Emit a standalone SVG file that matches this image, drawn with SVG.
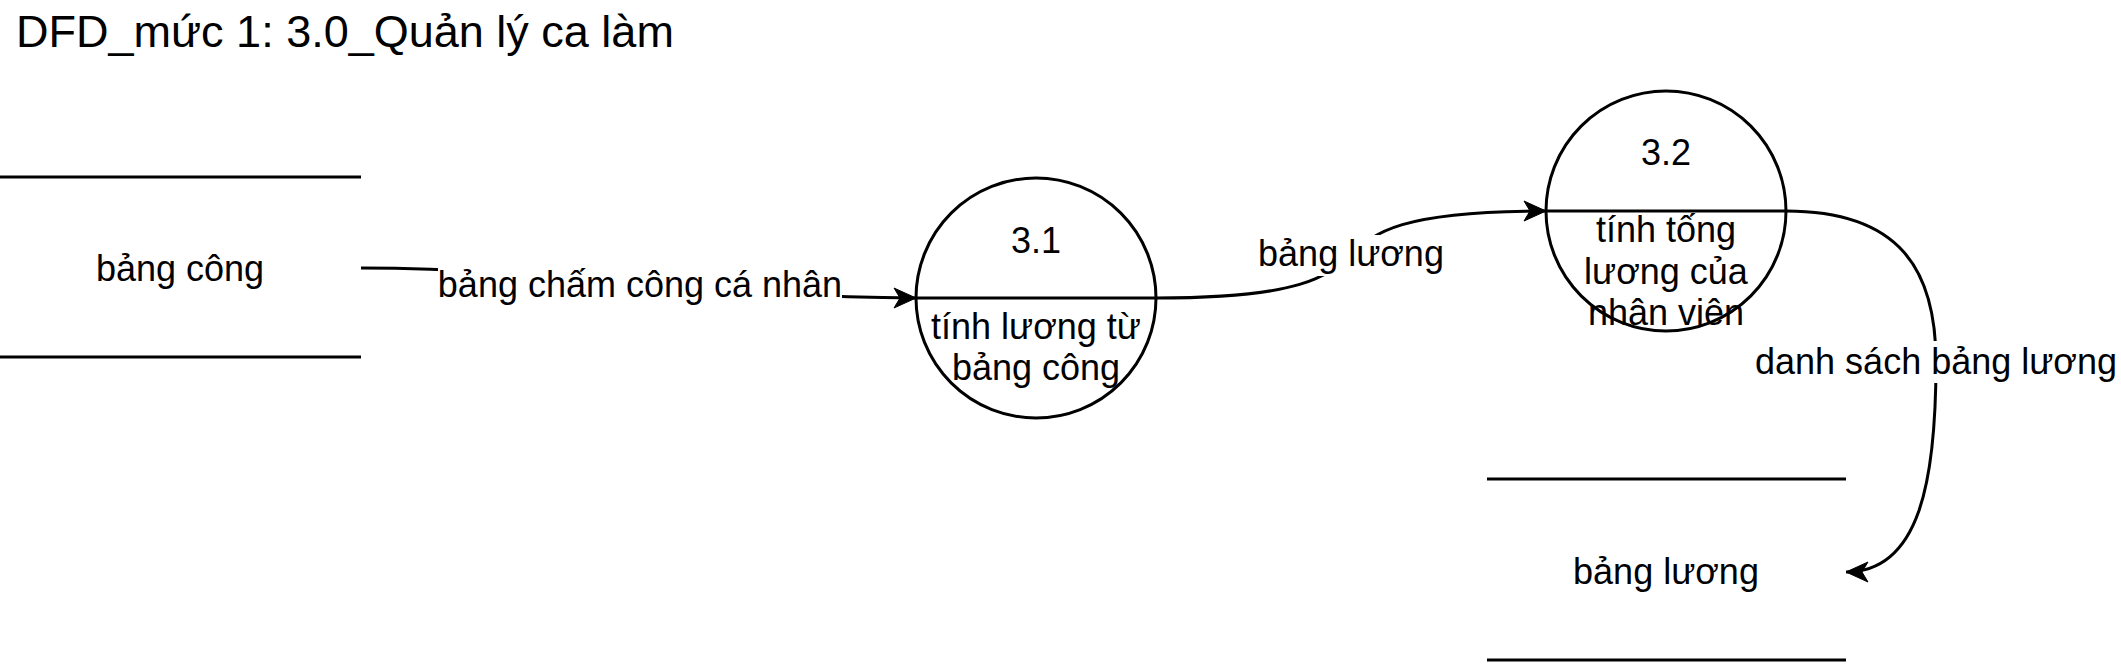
<svg xmlns="http://www.w3.org/2000/svg" width="2121" height="666" viewBox="0 0 2121 666">
<style>
text{font-family:"Liberation Sans",Arial,sans-serif;font-size:36px;fill:#000;text-anchor:middle}
.title{font-size:45px;text-anchor:start}
.ln{stroke:#000;stroke-width:3;fill:none}
.proc{stroke:#000;stroke-width:3;fill:#fff}
.edge{stroke:#000;stroke-width:3;fill:none;marker-end:url(#arr)}
.lbg{fill:#fff}
</style>
<defs>
<marker id="arr" markerUnits="userSpaceOnUse" markerWidth="26" markerHeight="22" refX="23" refY="11" orient="auto">
<path d="M1,1 L23,11 L1,21 L7,11 Z" fill="#000" stroke="#000" stroke-width="1"/>
</marker>
</defs>
<rect width="2121" height="666" fill="#fff"/>
<text class="title" x="16" y="47">DFD_mức 1: 3.0_Quản lý ca làm</text>

<g id="connectors">
<g id="e1">
<path class="edge" d="M361,268 C560,268 720,298 916,298"/>
<rect class="lbg" x="438" y="264" width="404" height="42"/>
<text x="640" y="297">bảng chấm công cá nhân</text>
</g>
<g id="e2">
<path class="edge" d="M1156,298 C1450,298 1252,211 1546,211"/>
<rect class="lbg" x="1260" y="235" width="182" height="41"/>
<text x="1351" y="266">bảng lương</text>
</g>
<g id="e3">
<path class="edge" d="M1786,211 C1900,211 1936,270 1936,362 C1936,480 1920,572 1846,572"/>
<rect class="lbg" x="1757" y="341" width="358" height="42"/>
<text x="1936" y="374">danh sách bảng lương</text>
</g>
</g>

<g id="store1">
<line class="ln" x1="0" y1="177" x2="361" y2="177"/>
<line class="ln" x1="0" y1="357" x2="361" y2="357"/>
<text x="180" y="281">bảng công</text>
</g>

<g id="p31">
<circle class="proc" cx="1036" cy="298" r="120"/>
<line class="ln" x1="916" y1="298" x2="1156" y2="298"/>
<text x="1036" y="253">3.1</text>
<text x="1036" y="339">tính lương từ</text>
<text x="1036" y="380">bảng công</text>
</g>

<g id="p32">
<circle class="proc" cx="1666" cy="211" r="120"/>
<line class="ln" x1="1546" y1="211" x2="1786" y2="211"/>
<text x="1666" y="165">3.2</text>
<text x="1666" y="242">tính tống</text>
<text x="1666" y="284">lương của</text>
<text x="1666" y="325">nhân viên</text>
</g>

<g id="store2">
<line class="ln" x1="1487" y1="479" x2="1846" y2="479"/>
<line class="ln" x1="1487" y1="660" x2="1846" y2="660"/>
<text x="1666" y="584">bảng lương</text>
</g>
</svg>
